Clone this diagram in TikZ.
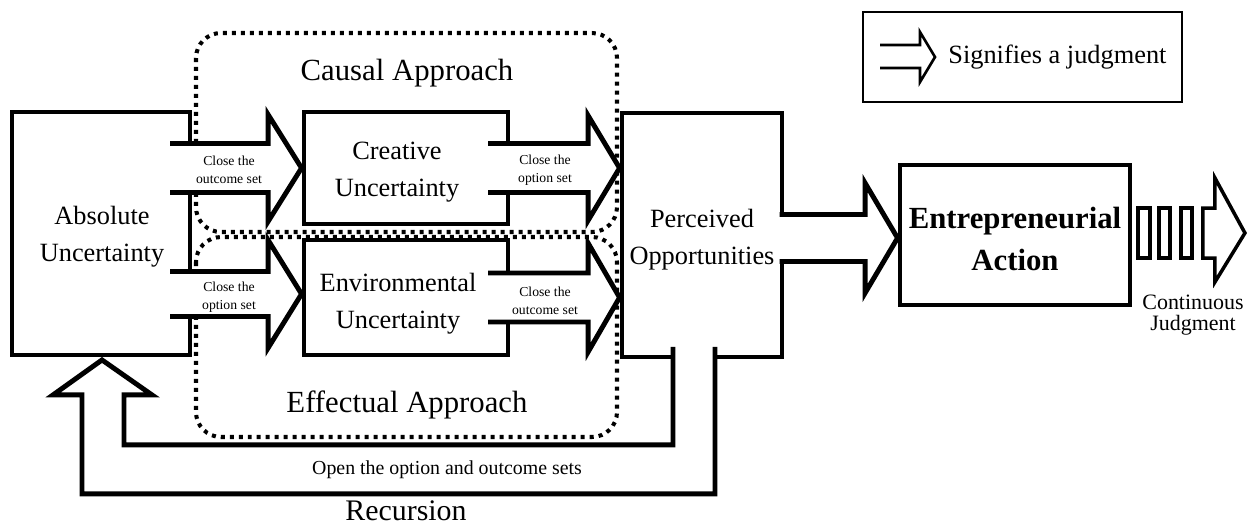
\documentclass[tikz,border=0pt]{standalone}
\usepackage{fontspec}
\setmainfont{Liberation Serif}
\usetikzlibrary{calc}
\newcommand\jarr[5]{%
  \fill[white] (#1) -- ++(-#2,-#3) -- ++(0,#3-#4) -- ++(-#5,0) -- ++(0,2*#4) -- ++(#5,0) -- ++(0,#3-#4) -- cycle;
  \draw[jline] (#1) ++(-#2-#5,-#4) -- ++(#5,0) -- ++(0,#4-#3) -- (#1) -- ++(-#2,#3) -- ++(0,#4-#3) -- ++(-#5,0);
}
\begin{document}
\begin{tikzpicture}[x=0.02cm,y=-0.02cm,
  box/.style={draw,line width=2.8pt,rectangle,inner sep=0pt},
  boxtext/.style={inner sep=0pt,align=center,font=\fontsize{15}{21}\selectfont},
  zone/.style={line width=2.3pt,dash pattern=on 0.08cm off 0.1cm,rounded corners=0.5cm},
  jline/.style={line width=2.8pt,line join=miter},
  small/.style={font=\fontsize{7.8}{10.2}\selectfont,align=center,inner sep=0pt},
  title/.style={font=\fontsize{17.5}{21}\selectfont,inner sep=0pt},
  cj/.style={line width=2pt,line join=miter},
]
\useasboundingbox (0,0) rectangle (1253,525);

% approach zones
\draw[zone] (196,33) rectangle (617,232);
\draw[zone] (196,237) rectangle (617,437);
\node[title] (causal) at (407,73) {Causal Approach};
\node[title] (effect) at (407,405) {Effectual Approach};

% boxes
\node[box,minimum width=3.56cm,minimum height=4.86cm] (abs) at (101,233.5) {};
\node[box,minimum width=4.08cm,minimum height=2.24cm] (cre) at (406,168) {};
\node[box,minimum width=4.08cm,minimum height=2.30cm] (env) at (406,297.5) {};
\node[box,minimum width=3.2cm,minimum height=4.88cm] (per) at (702,235) {};
\node[box,minimum width=4.6cm,minimum height=2.8cm] (ea) at (1015,235) {};
\node[boxtext] (absT) at ($(abs.center)+(1,3)$) {Absolute\\Uncertainty};
\node[boxtext] (creT) at ($(cre.center)+(-9,4)$) {Creative\\Uncertainty};
\node[boxtext] (envT) at ($(env.center)+(-8,6)$) {Environmental\\Uncertainty};
\node[boxtext] (perT) at ($(per.center)+(0,4.5)$) {Perceived\\Opportunities};
\node[boxtext,font=\bfseries\fontsize{17.5}{24}\selectfont] (eaT) at ($(ea.center)+(0,4)$) {Entrepreneurial\\Action};

% judgment arrows
\coordinate (t1) at (cre.west);
\coordinate (t2) at ($(env.west)+(0,-3.5)$);
\coordinate (t3) at ($(per.west)+(0,-67)$);
\coordinate (t4) at ($(per.west)+(0,62.5)$);
\coordinate (t5) at ($(ea.west)+(0,3)$);
\jarr{t1}{33.5}{53.5}{24.5}{98}
\jarr{t2}{33.5}{54}{22.5}{98}
\jarr{t3}{31.5}{52.5}{24.5}{100}
\jarr{t4}{31.5}{54.5}{24.5}{100}
\jarr{t5}{32.5}{55}{23.5}{85.5}
\node[small] (l1) at (229,170) {Close the\\outcome set};
\node[small] (l2) at (229,297) {Close the\\option set};
\node[small] (l3) at (545,170) {Close the\\option set};
\node[small] (l4) at (545,301) {Close the\\outcome set};

% recursion loop
\coordinate (tipL) at ($(abs.south)+(1,2.5)$);
\coordinate (lpA) at ($(per.south)+(-29,-12.5)$);
\fill[white] (lpA) -- ++(0,98) -| ($(tipL)+(22,35)$) -- ++(28,0) -- (tipL) -- ++(-49,35) -- ++(29,0) |- ($(lpA)+(42,147)$) -- ++(0,-147) -- cycle;
\draw[jline] (lpA) -- ++(0,98) -| ($(tipL)+(22,35)$) -- ++(28,0) -- (tipL) -- ++(-49,35) -- ++(29,0) |- ($(lpA)+(42,147)$) -- ++(0,-147);
\node[font=\fontsize{11.3}{13}\selectfont,inner sep=0pt] (open) at (447,470) {Open the option and outcome sets};
\node[title,font=\fontsize{17}{20}\selectfont] (rec) at (406,511) {Recursion};

% continuous judgment
\draw[cj] ($(ea.east)+(5.5,-27)$) rectangle ++(12,50);
\draw[cj] ($(ea.east)+(26.5,-27)$) rectangle ++(11,50);
\draw[cj] ($(ea.east)+(48.5,-27)$) rectangle ++(11,50);
\draw[cj] ($(ea.east)+(70.5,-27)$) -- ++(12,0) -- ++(0,-30) -- ++(30,55) -- ++(-30,49) -- ++(0,-24) -- ++(-12,0) -- cycle;
\node[align=center,inner sep=0pt,font=\fontsize{12.5}{11.9}\selectfont] (cont) at (1193,315) {Continuous\\Judgment};

% legend
\node[draw,line width=1.2pt,minimum width=6.38cm,minimum height=1.8cm,inner sep=0pt] (lg) at (1022.5,57) {};
\draw[line width=1.5pt,line join=miter] (880,45) -- (920,45) -- (920,32) -- (935,57) -- (920,82) -- (920,68) -- (880,68);
\node[anchor=base west,inner sep=0pt,font=\fontsize{15}{18}\selectfont] (lgt) at (948,63) {Signifies a judgment};
\end{tikzpicture}
\end{document}
